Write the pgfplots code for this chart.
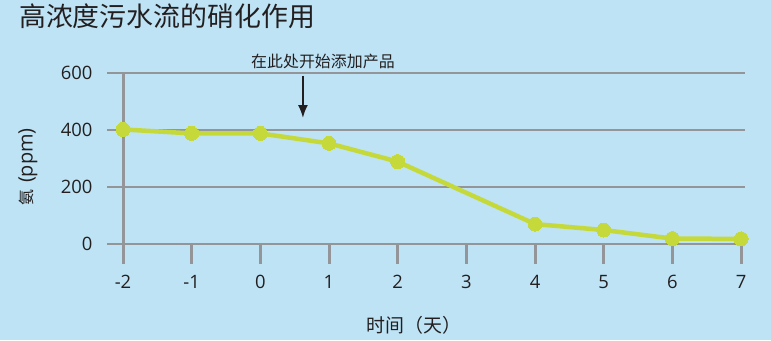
\documentclass[border=0pt]{standalone}
\usepackage{fontspec}
\setmainfont{Open Sans}
\newfontfamily\cjk{Noto Sans CJK SC}
\usepackage{pgfplots}
\pgfplotsset{compat=1.18}
\usetikzlibrary{arrows.meta}
\definecolor{bg}{HTML}{BEE3F5}
\definecolor{gridc}{HTML}{939598}
\definecolor{lime}{HTML}{C5DA3A}
\definecolor{txt}{HTML}{231F20}
\begin{document}
\begin{tikzpicture}[x=1bp,y=1bp]
\fill[bg] (0,0) rectangle (771,340);
\node[anchor=west, text=txt, inner sep=0pt, font=\cjk\fontsize{27}{30}\selectfont] at (19,324) {高浓度污水流的硝化作用};
\begin{axis}[
  at={(107bp,96bp)}, anchor=south west,
  scale only axis, width=638bp, height=171bp,
  xmin=-2.233, xmax=7.058, ymin=0, ymax=600,
  clip=false,
  axis line style={draw=none},
  ymajorgrids, grid style={gridc, line width=2.5bp},
  ytick={0,200,400,600},
  ytick style={draw=none},
  xtick={-2,-1,0,1,2,3,4,5,6,7},
  xticklabels={-2,-1,0,1,2,3,4,5,6,7},
  xtick pos=bottom, tick align=outside,
  major tick length=19bp,
  xtick style={gridc, line width=3bp, yshift=-1bp},
  /pgf/number format/assume math mode=true,
  ticklabel style={text=txt, font=\fontsize{18.5}{20}\selectfont},
  yticklabel style={anchor=east, xshift=8bp},
  xticklabel style={anchor=center, yshift=-19bp},
  xlabel={\cjk\fontsize{19}{22}\selectfont 时间（天）},
  xlabel style={at={(rel axis cs:0.481,-0.474)}, anchor=center, text=txt},
  ylabel={\fontsize{20}{22}\selectfont{\cjk\fontsize{16}{18}\selectfont 氨}\hspace{7bp}(ppm)},
  ylabel style={at={(rel axis cs:-0.124,0.45)}, anchor=center, text=txt},
]
\draw[gridc, line width=3bp] (axis cs:-2,600) -- (axis cs:-2,-49);
\addplot[lime, line width=4.5bp, mark=*, mark size=7bp, mark options={fill=lime, draw=lime, line width=0bp}]
  coordinates {(-2,402) (-1,388) (0,388) (1,353) (2,289) (4,70) (5,49) (6,19) (7,18)};
\node[text=txt, font=\cjk\fontsize{16}{18}\selectfont] at (axis cs:0.912,639) {在此处开始添加产品};
\draw[-{Latex[length=13bp,width=10bp]}, txt, line width=2bp] (axis cs:0.62,590) -- (axis cs:0.62,442);
\end{axis}
\end{tikzpicture}
\end{document}
